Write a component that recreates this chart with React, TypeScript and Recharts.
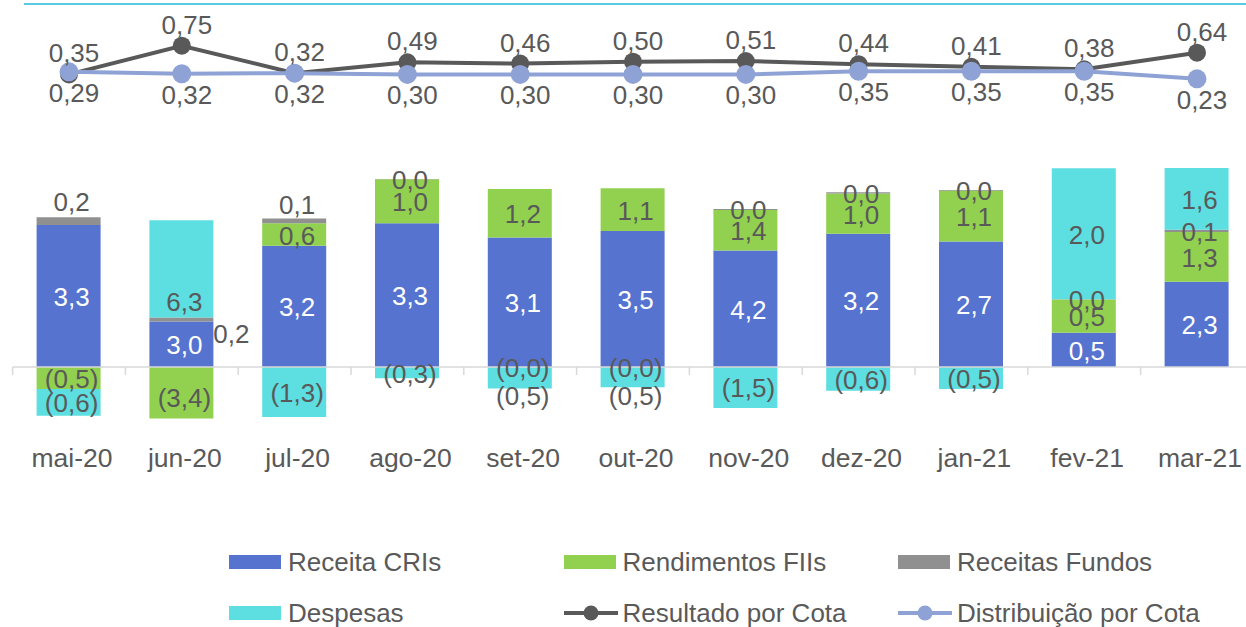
import {
  ComposedChart, Bar, Line, XAxis, YAxis, ReferenceLine, LabelList
} from 'recharts';

const MONTHS = ['mai-20', 'jun-20', 'jul-20', 'ago-20', 'set-20', 'out-20', 'nov-20', 'dez-20', 'jan-21', 'fev-21', 'mar-21'];

// bar heights as drawn (R$ mi)
const RECEITA_CRIS = [3.28, 1.05, 2.80, 3.32, 2.99, 3.14, 2.69, 3.08, 2.90, 0.79, 1.97];
const RENDIMENTOS_FIIS = [-0.51, -1.19, 0.52, 1.02, 1.12, 0.99, 0.94, 0.93, 1.17, 0.77, 1.15];
const RECEITAS_FUNDOS = [0.18, 0.09, 0.11, 0.004, -0.01, -0.01, 0.02, 0.03, 0.02, 0.004, 0.05];
const DESPESAS = [-0.62, 2.25, -1.16, -0.26, -0.49, -0.46, -0.95, -0.55, -0.51, 3.03, 1.43];

// per-share lines
const RESULTADO = [0.30, 0.75, 0.32, 0.49, 0.47, 0.50, 0.51, 0.46, 0.42, 0.38, 0.64];
const DISTRIBUICAO = [0.34, 0.31, 0.32, 0.30, 0.30, 0.30, 0.30, 0.35, 0.35, 0.35, 0.23];

// data labels as printed
const CRIS_LABELS = ['3,3', '3,0', '3,2', '3,3', '3,1', '3,5', '4,2', '3,2', '2,7', '0,5', '2,3'];
const FIIS_LABELS = ['(0,5)', '(3,4)', '0,6', '1,0', '1,2', '1,1', '1,4', '1,0', '1,1', '0,5', '1,3'];
const FUNDOS_LABELS = ['0,2', '0,2', '0,1', '0,0', '(0,0)', '(0,0)', '0,0', '0,0', '0,0', '0,0', '0,1'];
const DESPESAS_LABELS = ['(0,6)', '6,3', '(1,3)', '(0,3)', '(0,5)', '(0,5)', '(1,5)', '(0,6)', '(0,5)', '2,0', '1,6'];
const RESULTADO_LABELS = ['0,35', '0,75', '0,32', '0,49', '0,46', '0,50', '0,51', '0,44', '0,41', '0,38', '0,64'];
const DISTRIBUICAO_LABELS = ['0,29', '0,32', '0,32', '0,30', '0,30', '0,30', '0,30', '0,35', '0,35', '0,35', '0,23'];

const data = MONTHS.map((month, i) => ({
  month,
  cris: RECEITA_CRIS[i],
  fiis: RENDIMENTOS_FIIS[i],
  fundos: RECEITAS_FUNDOS[i],
  despesas: DESPESAS[i],
  resultado: RESULTADO[i],
  distribuicao: DISTRIBUICAO[i],
}));

const C_CRIS = '#5573cf';
const C_FIIS = '#92d050';
const C_FUNDOS = '#909090';
const C_DESP = '#5ddee0';
const C_RES = '#595959';
const C_DIST = '#8fa2d5';
const TEXT = '#595959';
const FONT = '"Liberation Sans", Arial, sans-serif';

// hand-placed labels in the original
const NUDGE: Record<string, Record<number, { dx?: number; dy?: number }>> = {
  fiis: { 1: { dy: 4 } },
  fundos: { 0: { dy: -20 }, 1: { dx: 47, dy: 13 }, 2: { dy: -17 } },
  despesas: { 1: { dy: 32 }, 4: { dy: 17 }, 5: { dy: 18 } },
};

const barLabel = (labels: string[], color: string, key: string) => (props: any) => {
  const vb = props.viewBox || props;
  const x = props.x ?? vb.x;
  const y = props.y ?? vb.y;
  const w = props.width ?? vb.width;
  const h = props.height ?? vb.height;
  const i = props.index;
  const text = labels[i];
  if (text == null) return null;
  const n = (NUDGE[key] && NUDGE[key][i]) || {};
  return (
    <text
      x={x + w / 2 + 3 + (n.dx || 0)}
      y={y + h / 2 + 1 + (n.dy || 0)}
      textAnchor="middle"
      dominantBaseline="central"
      fill={color}
      fontSize={26}
      fontFamily={FONT}
    >
      {text}
    </text>
  );
};

const lineLabel = (labels: string[], dy: number) => (props: any) => {
  const x = props.x ?? props.viewBox?.x;
  const y = props.y ?? props.viewBox?.y;
  const text = labels[props.index];
  if (text == null) return null;
  return (
    <text x={x + 5} y={y + dy} textAnchor="middle" dominantBaseline="central" fill={TEXT} fontSize={26} fontFamily={FONT}>
      {text}
    </text>
  );
};

const MonthTick = (props: any) => (
  <text x={props.x + 3} y={props.y + 9} textAnchor="middle" fill={TEXT} fontSize={26.5} fontFamily={FONT}>
    {props.payload.value}
  </text>
);

// zero axis with category tick marks
const ZeroAxis = (props: any) => {
  const { x1, x2, y1 } = props;
  const step = (x2 - x1) / MONTHS.length;
  return (
    <g>
      <line x1={x1} x2={x2} y1={y1} y2={y1} stroke="#d9d9d9" strokeWidth={1.5} />
      {Array.from({ length: MONTHS.length + 1 }, (_, i) => (
        <line key={i} x1={x1 + i * step} x2={x1 + i * step} y1={y1} y2={y1 + 8} stroke="#d9d9d9" strokeWidth={1.5} />
      ))}
    </g>
  );
};

const LEGEND = [
  { name: 'Receita CRIs', color: C_CRIS, kind: 'bar' },
  { name: 'Rendimentos FIIs', color: C_FIIS, kind: 'bar' },
  { name: 'Receitas Fundos', color: C_FUNDOS, kind: 'bar' },
  { name: 'Despesas', color: C_DESP, kind: 'bar' },
  { name: 'Resultado por Cota', color: C_RES, kind: 'line' },
  { name: 'Distribuição por Cota', color: C_DIST, kind: 'line' },
];

export default function App() {
  return (
    <div style={{ position: 'absolute', left: 0, top: 0, width: 1246, height: 627, overflow: 'hidden', background: '#fff', fontFamily: FONT }}>
      <div style={{ position: 'absolute', left: 24, right: 0, top: 3, height: 2, background: '#5ccae0' }} />
      <div style={{ position: 'absolute', left: 0, top: 0 }}>
        <ComposedChart
          width={1266}
          height={490}
          data={data}
          stackOffset="sign"
          margin={{ top: 10, right: 12.6, left: 12.6, bottom: 0 }}
        >
          <XAxis dataKey="month" height={40} interval={0} axisLine={false} tickLine={false} tick={<MonthTick />} />
          <YAxis yAxisId="bars" hide domain={[-1.92, 8.25]} allowDataOverflow />
          <YAxis yAxisId="lines" hide domain={[-5.59, 1.31]} allowDataOverflow />
          <Bar yAxisId="bars" dataKey="cris" stackId="s" fill={C_CRIS} barSize={64} isAnimationActive={false}>
            <LabelList dataKey="cris" content={barLabel(CRIS_LABELS, '#ffffff', 'cris')} />
          </Bar>
          <Bar yAxisId="bars" dataKey="fiis" stackId="s" fill={C_FIIS} barSize={64} isAnimationActive={false}>
            <LabelList dataKey="fiis" content={barLabel(FIIS_LABELS, TEXT, 'fiis')} />
          </Bar>
          <Bar yAxisId="bars" dataKey="fundos" stackId="s" fill={C_FUNDOS} barSize={64} isAnimationActive={false}>
            <LabelList dataKey="fundos" content={barLabel(FUNDOS_LABELS, TEXT, 'fundos')} />
          </Bar>
          <Bar yAxisId="bars" dataKey="despesas" stackId="s" fill={C_DESP} barSize={64} isAnimationActive={false}>
            <LabelList dataKey="despesas" content={barLabel(DESPESAS_LABELS, TEXT, 'despesas')} />
          </Bar>
          <ReferenceLine yAxisId="bars" y={0} shape={<ZeroAxis />} />
          <Line
            yAxisId="lines"
            dataKey="resultado"
            stroke={C_RES}
            strokeWidth={4}
            dot={{ r: 9, fill: C_RES, stroke: 'none' }}
            activeDot={false}
            isAnimationActive={false}
          >
            <LabelList dataKey="resultado" content={lineLabel(RESULTADO_LABELS, -21)} />
          </Line>
          <Line
            yAxisId="lines"
            dataKey="distribuicao"
            stroke={C_DIST}
            strokeWidth={4}
            dot={{ r: 9.5, fill: C_DIST, stroke: 'none' }}
            activeDot={false}
            isAnimationActive={false}
          >
            <LabelList dataKey="distribuicao" content={lineLabel(DISTRIBUICAO_LABELS, 21)} />
          </Line>
        </ComposedChart>
      </div>
      {LEGEND.map((item, i) => {
        const col = i % 3;
        const row = Math.floor(i / 3);
        const left = 229 + col * 334.5;
        const cy = 562 + row * 51;
        return (
          <div key={item.name} style={{ position: 'absolute', left, top: cy - 16, height: 32, display: 'flex', alignItems: 'center' }}>
            <svg width={54} height={20} style={{ marginRight: 5 }}>
              {item.kind === 'bar' ? (
                <rect x={0} y={3} width={52} height={14} fill={item.color} />
              ) : (
                <g>
                  <line x1={0} x2={54} y1={10} y2={10} stroke={item.color} strokeWidth={4} />
                  <circle cx={27} cy={10} r={7.5} fill={item.color} />
                </g>
              )}
            </svg>
            <span style={{ fontSize: 26, color: TEXT, whiteSpace: 'nowrap', lineHeight: '32px' }}>{item.name}</span>
          </div>
        );
      })}
    </div>
  );
}
